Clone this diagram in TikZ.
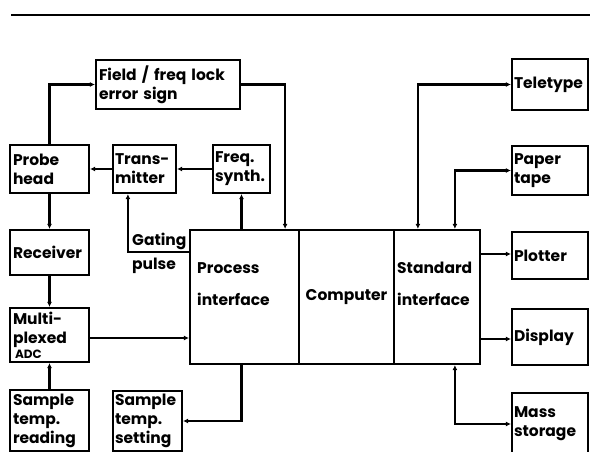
\documentclass[tikz,border=0pt]{standalone}
\usepackage{fontspec}
\setmainfont{Poppins}
\usetikzlibrary{arrows.meta}
\begin{document}
\begin{tikzpicture}[x=1pt,y=-1pt,
  txt/.style={font=\fontsize{15.5}{19}\selectfont\bfseries},
  box/.style={draw, line width=2.2pt, inner sep=2pt, align=left, txt, anchor=center},
  conn/.style={line width=2.2pt, -{Latex[length=5pt,width=5pt]}},
  both/.style={line width=2.2pt, {Latex[length=5pt,width=5pt]}-{Latex[length=5pt,width=5pt]}},
  lbl/.style={txt, inner sep=0pt, anchor=west, align=left}]
\useasboundingbox (0,0) rectangle (590,452);
\clip (0,0) rectangle (590,452);
\fill[white] (0,0) rectangle (590,452);
\draw[line width=1.8pt] (11,15) -- (590,15);
% left column
\node[box, minimum width=144, minimum height=49, text width=138] (field) at (168,84.5) {Field / freq lock\\error sign};
\node[box, minimum width=79, minimum height=48, text width=73] (probe) at (49.5,169) {Probe\\head};
\node[box, minimum width=63, minimum height=48, text width=59] (trans) at (144.5,169) {Trans-\\mitter};
\node[box, minimum width=57, minimum height=48, text width=53] (freq) at (241.5,169) {Freq.\\synth.};
\node[box, minimum width=79, minimum height=45, text width=73] (receiver) at (49.5,252.5) {Receiver};
\node[box, minimum width=79, minimum height=54, text width=73] (mux) at (49.5,335) {Multi-\\plexed\\[-4pt]\hspace*{2pt}\fontsize{12}{12}\selectfont\bfseries ADC};
\node[box, minimum width=79, minimum height=61, text width=73] (reading) at (49.5,420.5) {Sample\\temp.\\reading};
\node[box, minimum width=69, minimum height=60, text width=65] (setting) at (147.5,421) {Sample\\temp.\\setting};
% centre
\node[box, minimum width=109, minimum height=134] (process) at (244.5,297) {};
\node[box, minimum width=95, minimum height=134] (computer) at (346.5,297) {Computer};
\node[box, minimum width=86, minimum height=134] (standard) at (437,297) {};
\node[lbl] (proclbl) at (197,284) {Process\\[13pt]interface};
\node[lbl] (stdlbl) at (397,284) {Standard\\[13pt]interface};
\node[lbl] (gating) at (132,241) {Gating};
\node[lbl] (pulse) at (132,266) {pulse};
% right column
\node[box, minimum width=76, minimum height=51, text width=72] (teletype) at (550,84.5) {Teletype};
\node[box, minimum width=76, minimum height=49, text width=72] (paper) at (550,170.5) {Paper\\tape};
\node[box, minimum width=76, minimum height=47, text width=72] (plotter) at (550,255.5) {Plotter};
\node[box, minimum width=76, minimum height=56, text width=72] (display) at (550,337) {Display};
\node[box, minimum width=76, minimum height=62, text width=72] (mass) at (550,424) {Mass\\storage};
% connectors
\draw[conn] (probe.north) |- (field.west);
\draw[conn] (field.east) -| ([xshift=-15pt]process.north east);
\draw[conn] (freq.west) -- (trans.east);
\draw[conn] (trans.west) -- (probe.east);
\draw[conn] (probe.south) -- (receiver.north);
\draw[conn] ([yshift=-23pt]process.north west) -| ([xshift=16pt]trans.south west);
\draw[conn] (process.north -| freq.south) -- (freq.south);
\draw[conn] (receiver.south) -- (mux.north);
\draw[conn] (reading.north) -- (mux.south);
\draw[conn] ([yshift=-3pt]mux.east) -- ([yshift=-3pt]mux.east -| process.west);
\draw[conn] (process.south -| freq.south) |- (setting.east);
\draw[both] ([xshift=25pt]standard.north west) |- (teletype.west);
\draw[both] ([xshift=62pt]standard.north west) |- (paper.west);
\draw[conn] ([yshift=1.5pt]standard.east |- plotter.west) -- ([yshift=1.5pt]plotter.west);
\draw[conn] ([yshift=-2pt]standard.east |- display.west) -- ([yshift=-2pt]display.west);
\draw[both] ([xshift=62pt]standard.south west) |- (mass.west);
\end{tikzpicture}
\end{document}
